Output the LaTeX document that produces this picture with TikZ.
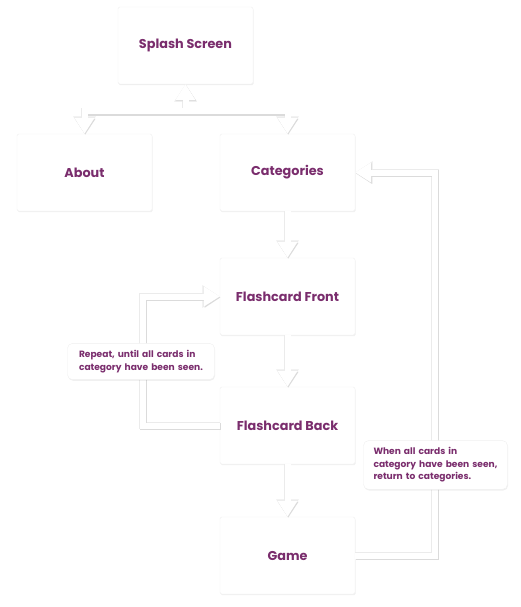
\documentclass[tikz,border=0pt]{standalone}
\usepackage{fontspec}
\setmainfont{Poppins}
\usetikzlibrary{arrows.meta,shadows}
\definecolor{plum}{HTML}{7A2D6D}
\tikzset{
  screen/.style={rectangle, draw=black!6, fill=white, rounded corners=1.5pt,
    minimum width=135pt, minimum height=77pt, text=plum,
    font=\bfseries\fontsize{12.8}{15}\selectfont,
    drop shadow={opacity=0.12, shadow xshift=0.6pt, shadow yshift=-1.2pt}},
  note/.style={rectangle, draw=black!6, fill=white, rounded corners=5pt,
    inner xsep=11.5pt, inner ysep=7pt, align=left, text=plum, text width=124pt,
    font=\bfseries\fontsize{9.1}{12.5}\selectfont,
    drop shadow={opacity=0.12, shadow xshift=0.6pt, shadow yshift=-1.2pt}},
  flow/.style={draw=white, line width=6pt, >={Triangle[length=16pt, width=19pt]}},
  flowhalo/.style={draw=black!8, line width=7.8pt,
    >={Triangle[length=17.5pt, width=21.5pt]}},
  flowshade/.style={draw=black!14, line width=6.4pt,
    >={Triangle[length=16pt, width=19.5pt]},
    transform canvas={shift={(0.7pt,-1pt)}}}
}
% all connectors, drawn once per layer
\newcommand\linkpaths[1]{
  \draw[#1, <->] (about.north) |- (bar) -| (cats.north);
  \draw[#1, ->] (fork) -- (splash.south);
  \draw[#1, ->] (cats) -- (front);
  \draw[#1, ->] (front) -- (back);
  \draw[#1, ->] (back) -- (game);
  \draw[#1, ->] (back.west) -- ++(-77,0) |- (front.west);
  \draw[#1, ->] (game.east) -- ++(80,0) |- (cats.east);
}
\begin{document}
\begin{tikzpicture}[x=1pt, y=-1pt]
  \useasboundingbox (0,0) rectangle (520,607);
  \node at (185.5,45.5) [screen] (splash) {Splash Screen};
  \node at (84.5,172.5) [screen] (about) {About};
  \node at (287.5,172.5) [screen] (cats) {Categories};
  \node at (287.5,296.5) [screen] (front) {Flashcard Front};
  \node at (287.5,425.5) [screen] (back) {Flashcard Back};
  \node at (287.5,555.5) [screen] (game) {Game};
  \coordinate (bar) at (185.5,111.5);
  \coordinate (fork) at (185.5,111.5);
  % connectors
  \linkpaths{flowhalo}
  \linkpaths{flowshade}
  \linkpaths{flow}
  % notes
  \node at (141,361.5) [note] (repeat) {Repeat, until all cards in\\category have been seen.};
  \node at (435.5,465) [note, inner xsep=10pt] (done) {When all cards in\\category have been seen,\\return to categories.};
\end{tikzpicture}
\end{document}
